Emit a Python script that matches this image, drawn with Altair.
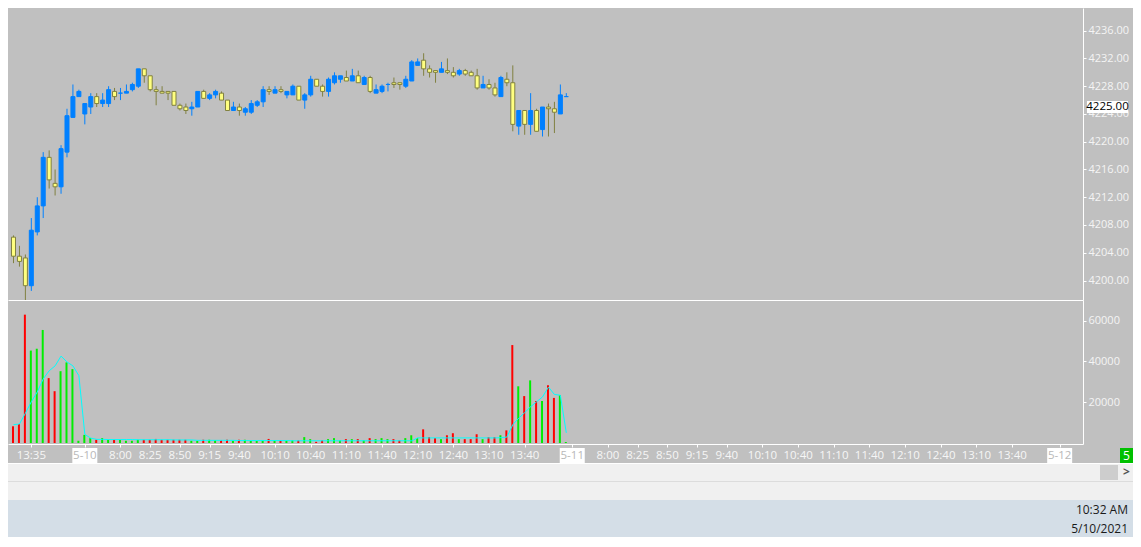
import numpy as np
import pandas as pd
import altair as alt

BLUE = '#0080FF'
YELLOW = '#FFFF80'
OLIVE = '#808040'
RED = '#FF0000'
GREEN = '#00EE00'
CYAN = '#00FFFF'
SILVER = '#C0C0C0'
FONT = 'Open Sans'

W = 1075            # plot width, 6 px per 5-minute bar
AXIS_W = 50
H_PRICE = 292
H_VOL = 144
X_DOM = [-1 / 12, W / 6 - 1 / 12]

# 5-minute bars, index 0 = first visible bar
opens = [4206.25, 4203.5, 4203.25, 4199.25, 4207.0, 4210.75, 4217.75, 4214.0, 4213.5, 4218.5,
         4223.5, 4226.5, 4224.0, 4225.0, 4226.5, 4225.5, 4225.5, 4227.25, 4227.0, 4227.0,
         4227.5, 4228.0, 4230.5, 4229.5, 4227.5, 4227.25, 4227.25, 4227.25, 4225.25, 4225.0,
         4224.75, 4225.0, 4227.25, 4226.25, 4226.75, 4227.0, 4226.0, 4224.5, 4225.0, 4224.25,
         4224.25, 4225.25, 4225.75, 4227.5, 4227.0, 4227.5, 4226.75, 4226.75, 4228.0, 4226.0,
         4226.75, 4229.0, 4228.0, 4227.25, 4228.5, 4229.0, 4229.25, 4228.75, 4229.5, 4228.25,
         4229.25, 4227.0, 4227.25, 4228.25, 4228.5, 4228.5, 4228.0, 4228.75, 4231.0, 4231.75,
         4230.5, 4230.25, 4230.0, 4230.25, 4230.0, 4229.75, 4230.25, 4230.0, 4229.5, 4227.75,
         4228.25, 4227.75, 4226.5, 4229.0, 4228.5, 4222.25, 4224.5, 4222.5, 4224.5, 4221.75,
         4225.0, 4224.75, 4224.0, 4226.5]
highs = [4206.5, 4205.0, 4203.75, 4209.0, 4212.0, 4218.5, 4218.75, 4216.0, 4219.5, 4224.75,
         4228.25, 4227.5, 4225.5, 4227.0, 4227.0, 4227.0, 4228.0, 4227.75, 4227.75, 4228.25,
         4228.5, 4230.5, 4230.5, 4229.5, 4228.0, 4228.0, 4227.25, 4227.25, 4225.5, 4225.5,
         4225.75, 4227.25, 4227.5, 4227.0, 4227.5, 4227.25, 4226.0, 4225.75, 4225.5, 4225.0,
         4226.0, 4226.0, 4228.0, 4228.0, 4228.0, 4228.0, 4227.25, 4228.25, 4228.0, 4227.0,
         4229.5, 4229.0, 4228.25, 4229.25, 4230.0, 4229.5, 4230.25, 4230.5, 4230.25, 4229.5,
         4229.5, 4228.25, 4228.25, 4228.5, 4229.25, 4228.5, 4229.5, 4231.75, 4232.0, 4232.75,
         4231.0, 4230.25, 4231.5, 4232.0, 4230.75, 4230.5, 4230.5, 4230.25, 4230.5, 4229.5,
         4229.0, 4228.5, 4229.5, 4230.0, 4231.0, 4224.5, 4224.5, 4227.0, 4224.75, 4225.0,
         4225.5, 4225.75, 4228.25, 4227.0]
lows = [4202.5, 4202.0, 4197.0, 4198.5, 4206.5, 4209.0, 4213.25, 4212.25, 4212.5, 4217.75,
        4223.5, 4226.5, 4222.5, 4224.0, 4225.0, 4225.0, 4225.0, 4226.0, 4226.0, 4227.0,
        4227.25, 4227.75, 4228.5, 4227.25, 4225.25, 4227.0, 4226.0, 4225.25, 4224.5, 4224.0,
        4223.75, 4225.0, 4226.25, 4226.0, 4226.25, 4226.0, 4224.5, 4224.5, 4223.75, 4223.75,
        4224.0, 4225.0, 4225.0, 4226.75, 4227.0, 4227.0, 4226.25, 4226.75, 4226.0, 4224.75,
        4226.5, 4228.0, 4226.5, 4226.5, 4228.25, 4228.5, 4228.75, 4228.75, 4228.5, 4228.25,
        4227.0, 4227.0, 4227.0, 4227.25, 4227.75, 4227.5, 4227.75, 4228.75, 4231.0, 4229.5,
        4229.25, 4228.5, 4230.0, 4229.75, 4229.25, 4229.5, 4229.5, 4229.5, 4227.5, 4227.75,
        4227.5, 4226.5, 4226.5, 4228.0, 4221.5, 4221.0, 4221.0, 4221.0, 4221.5, 4220.75,
        4220.75, 4221.25, 4224.0, 4226.5]
closes = [4203.5, 4202.75, 4199.25, 4207.25, 4210.75, 4217.75, 4214.5, 4213.5, 4219.0, 4223.75,
          4226.5, 4227.25, 4225.5, 4226.5, 4225.5, 4226.0, 4227.5, 4226.5, 4227.0, 4227.25,
          4228.25, 4230.5, 4229.5, 4227.5, 4227.25, 4227.0, 4227.0, 4225.25, 4224.75, 4224.5,
          4225.0, 4227.25, 4226.25, 4226.75, 4227.25, 4226.0, 4224.5, 4225.0, 4224.5, 4224.75,
          4225.5, 4225.75, 4227.5, 4227.25, 4227.5, 4227.25, 4227.25, 4228.0, 4226.0, 4226.75,
          4229.0, 4228.0, 4227.25, 4229.0, 4229.5, 4229.5, 4228.75, 4229.5, 4228.5, 4229.25,
          4227.25, 4227.5, 4228.0, 4228.25, 4228.25, 4228.25, 4229.0, 4231.5, 4231.5, 4230.5,
          4230.0, 4230.0, 4230.5, 4230.0, 4229.5, 4230.25, 4229.75, 4229.5, 4227.75, 4228.25,
          4227.75, 4226.75, 4229.25, 4228.5, 4222.5, 4224.5, 4222.5, 4224.5, 4221.5, 4225.0,
          4224.75, 4224.25, 4226.75, 4226.5]
volumes = [8200, 9300, 62900, 45300, 46200, 55400, 31800, 25400, 35200, 39500,
           36200, 1100, 4000, 2400, 1600, 2400, 1600, 1600, 1600, 1100,
           1100, 1600, 1600, 1600, 2000, 1600, 1600, 1600, 1600, 1600,
           1100, 1100, 1600, 1600, 1300, 1300, 1600, 1100, 1600, 1600,
           1100, 1100, 1300, 2000, 1300, 1300, 1300, 1300, 1300, 2900,
           1900, 600, 1300, 1900, 2400, 1300, 1900, 1900, 1900, 1300,
           2400, 1900, 2400, 1900, 1900, 1300, 2400, 3800, 2400, 6700,
           2900, 2400, 1900, 3800, 4800, 1900, 1900, 1900, 4300, 1900,
           2900, 2900, 3800, 6200, 48000, 27800, 23000, 30700, 20600, 20600,
           28300, 22100, 23500, 500]
vol_ma = [9000, 9300, 14600, 20200, 25000, 31400, 35400, 37800, 42600, 39700,
          37800, 33000, 4200, 2400, 1800, 1800, 1700, 1700, 1700, 1700,
          1700, 1600, 1600, 1600, 1600, 1600, 1600, 1500, 1500, 1500,
          1500, 1300, 1300, 1300, 1300, 1300, 1300, 1300, 1200, 1200,
          1200, 1200, 1200, 1200, 1200, 1200, 1200, 1100, 1100, 1100,
          1100, 1100, 1100, 1100, 1100, 1100, 1100, 1100, 1100, 1100,
          1100, 1100, 1100, 1100, 1100, 1100, 1100, 1100, 2500, 2500,
          2500, 2500, 2500, 2500, 2500, 2500, 2500, 2500, 2500, 2500,
          2500, 2500, 2600, 2900, 9000, 12200, 14900, 17800, 20200, 22600,
          27400, 23800, 23400, 5000]

# time axis labels (bar index, text)
label_idx = [3, 12, 18, 23, 28, 33, 38, 44, 50, 56, 62, 68, 74, 80, 86,
             94, 100, 105, 110, 115, 120, 126, 132, 138, 144, 150, 156, 162, 168, 176]
label_text = ['13:35', '5-10', '8:00', '8:25', '8:50', '9:15', '9:40', '10:10', '10:40',
              '11:10', '11:40', '12:10', '12:40', '13:10', '13:40',
              '5-11', '8:00', '8:25', '8:50', '9:15', '9:40', '10:10', '10:40',
              '11:10', '11:40', '12:10', '12:40', '13:10', '13:40', '5-12']
price_ticks = [4200, 4204, 4208, 4212, 4216, 4220, 4224, 4228, 4232, 4236]
vol_ticks = [20000, 40000, 60000]
last_price = 4225.0
bar_period = '5'

bars = pd.DataFrame({'k': range(len(opens)), 'open': opens, 'high': highs, 'low': lows,
                     'close': closes, 'volume': volumes, 'vol_ma': vol_ma})
bars['dir'] = np.where(bars['close'] >= bars['open'], 'up', 'down')
bars['body_lo'] = bars[['open', 'close']].min(axis=1)
bars['body_hi'] = bars[['open', 'close']].max(axis=1)

labels = pd.DataFrame({'idx': label_idx, 'text': label_text})
labels['kind'] = np.where(labels['text'].str.contains('-'), 'date', 'time')

x_scale = alt.Scale(domain=X_DOM, nice=False, zero=False)
p_scale = alt.Scale(domain=[4197.19, 4239.27], nice=False, zero=False)
v_scale = alt.Scale(domain=[-480, 70080], nice=False, zero=False)

right_axis = dict(orient='right', grid=False, tickSize=3, tickColor='white', domainColor='white',
                  labelColor='#F4F4F4', labelFont=FONT, labelFontSize=11, labelPadding=2,
                  minExtent=AXIS_W, maxExtent=AXIS_W)
price_axis = alt.Axis(values=price_ticks, format='.2f', **right_axis)
vol_axis = alt.Axis(values=vol_ticks, format='d', **right_axis)
px_axis = alt.Axis(labels=False, ticks=False, grid=False, domainColor='white')
vx_axis = alt.Axis(labels=False, ticks=True, tickSize=3, tickColor='white', values=label_idx,
                   grid=False, domainColor='white')

up_only = alt.datum.dir == 'up'
down_only = alt.datum.dir == 'down'

# --- price panel
pbase = alt.Chart(bars).encode(x=alt.X('k:Q', scale=x_scale, axis=px_axis, title=None))


def wick(cond, color):
    return pbase.transform_filter(cond).mark_rule(strokeWidth=1, clip=True, color=color).encode(
        y=alt.Y('low:Q', scale=p_scale, axis=price_axis, title=None), y2='high:Q')


def body(cond, fill, stroke):
    return pbase.transform_filter(cond).mark_bar(size=4, strokeWidth=1, clip=True,
                                                 fill=fill, stroke=stroke).encode(
        y=alt.Y('body_lo:Q', scale=p_scale, axis=price_axis, title=None), y2='body_hi:Q')


last_df = pd.DataFrame({'p': [last_price], 'lbl': [f'{last_price:.2f}']})
last_box = alt.Chart(last_df).mark_tick(orient='horizontal', size=41, thickness=12,
                                        color='white', opacity=1).encode(
    x=alt.value(W + 24.5), y=alt.Y('p:Q', scale=p_scale, axis=price_axis, title=None))
last_txt = alt.Chart(last_df).mark_text(font=FONT, fontSize=11.5, color='black',
                                        align='center', baseline='middle').encode(
    x=alt.value(W + 24.5), y=alt.Y('p:Q', scale=p_scale, axis=price_axis, title=None),
    text='lbl:N')
price = alt.layer(
    wick(up_only, BLUE), wick(down_only, OLIVE),
    body(up_only, BLUE, BLUE), body(down_only, YELLOW, OLIVE),
    last_box, last_txt,
).properties(width=W, height=H_PRICE)

# --- volume panel
vx = lambda f: alt.X(f, scale=x_scale, axis=vx_axis, title=None)


def vol_bars(cond, color):
    return alt.Chart(bars).transform_filter(cond).mark_bar(
        size=2, xOffset=-0.5, clip=True, color=color).encode(
        x=vx('k:Q'), y=alt.Y('volume:Q', scale=v_scale, axis=vol_axis, title=None))


ma = alt.Chart(bars).mark_line(color=CYAN, strokeWidth=1, clip=True).encode(
    x=vx('k:Q'), y=alt.Y('vol_ma:Q', scale=v_scale, axis=vol_axis, title=None))
date_box = alt.Chart(labels).transform_filter("datum.kind == 'date'").mark_tick(
    orient='horizontal', size=25, thickness=15, color='white', opacity=1).encode(
    x=vx('idx:Q'), y=alt.value(H_VOL + 11.5))


def axis_text(kind, color):
    return alt.Chart(labels).transform_filter(alt.datum.kind == kind).mark_text(
        font=FONT, fontSize=11.5, align='center', baseline='middle', color=color).encode(
        x=vx('idx:Q'), y=alt.value(H_VOL + 11.5), text='text:N')


one = pd.DataFrame({'t': [bar_period]})
period_box = alt.Chart(one).mark_rect(color='#00C000').encode(
    x=alt.value(W + 37), x2=alt.value(W + AXIS_W), y=alt.value(H_VOL + 4), y2=alt.value(H_VOL + 19))
period_txt = alt.Chart(one).mark_text(font=FONT, fontSize=12, color='white', align='center',
                                      baseline='middle').encode(
    x=alt.value(W + 43.5), y=alt.value(H_VOL + 11.5), text='t:N')
volume = alt.layer(
    vol_bars(up_only, GREEN), vol_bars(down_only, RED), ma,
    date_box, axis_text('time', '#F6F6F6'), axis_text('date', '#B8B8B8'),
    period_box, period_txt,
).properties(width=W, height=H_VOL)

# --- window chrome below the chart (scroll bar + taskbar)
CW = W + AXIS_W
CH = 74


def band(y0, y1, color, x0=0, x1=CW):
    return alt.Chart(one).mark_rect(color=color).encode(
        x=alt.value(x0), x2=alt.value(x1), y=alt.value(y0), y2=alt.value(y1))


def label(txt, x, y, size=12, color='#1A1A1A', weight='normal', align='right'):
    return alt.Chart(one).mark_text(text=txt, font=FONT, fontSize=size, color=color,
                                    fontWeight=weight, align=align, baseline='middle').encode(
        x=alt.value(x), y=alt.value(y))


chrome = alt.layer(
    band(0, 1, 'white'),
    band(1, 18, '#F0F0F0'),
    band(18, 19, '#DCDCDC'),
    band(19, 37, '#F0F0F0'),
    band(37, CH, '#D4DEE7'),
    band(2, 17, '#CDCDCD', CW - 33, CW - 15),
    label('>', CW - 6.5, 9, size=12, color='#555555', weight='bold', align='center'),
    label('10:32 AM', CW - 5, 47),
    label('5/10/2021', CW - 5, 66),
).properties(width=CW, height=CH)

chart = alt.vconcat(price, volume, chrome, spacing=0).properties(
    padding=0, background=SILVER).configure_view(stroke=None)

chart.save("out.html", embed_options={"renderer": "svg", "actions": False})
